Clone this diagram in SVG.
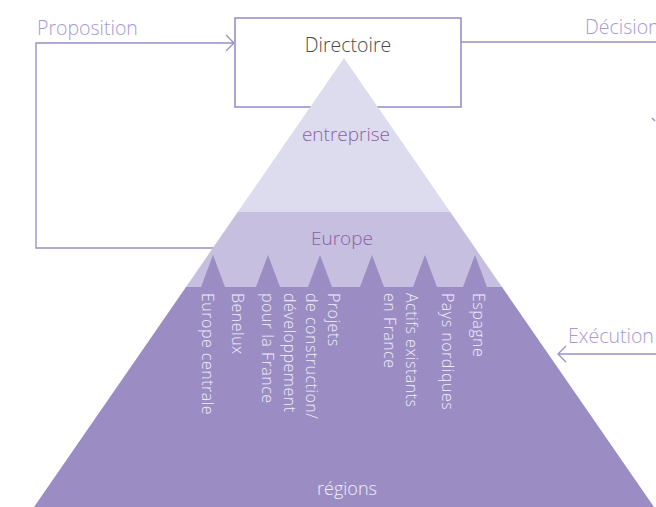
<svg xmlns="http://www.w3.org/2000/svg" width="656" height="507" viewBox="0 0 656 507">
<style>
text{font-family:"Open Sans","Liberation Sans",sans-serif;font-weight:300}
.flow{fill:none;stroke:#9c8fcc;stroke-width:1.4}
.flowlbl{fill:#a59ad4;font-size:19.5px}
.lvl{fill:#8b5fa8;font-size:19px;text-anchor:middle}
.reg{fill:#f1eef9;font-size:16px;letter-spacing:0.5px}
</style>
<defs>
<marker id="chev" viewBox="0 0 10 18" refX="9" refY="9" markerWidth="10" markerHeight="18" markerUnits="userSpaceOnUse" orient="auto">
<path d="M1,1 L9,9 L1,17" fill="none" stroke="#9c8fcc" stroke-width="1.3"/>
</marker>
</defs>
<g id="connectors">
<path class="flow" d="M240,248 H36 V43 H234" marker-end="url(#chev)"/>
<path class="flow" d="M461,42 H656"/>
<path class="flow" d="M656,354 H558" marker-end="url(#chev)"/>
<path class="flow" d="M652,118 L655,121"/>
<text class="flowlbl" x="37" y="35">Proposition</text>
<text class="flowlbl" x="585" y="34">Décision</text>
<text class="flowlbl" x="568" y="343">Exécution</text>
</g>
<g id="directoire">
<rect x="235" y="18" width="226" height="89" fill="#ffffff" stroke="#9c8fcc" stroke-width="1.6"/>
<text x="348" y="52" font-size="19.5" fill="#4a4a4a" text-anchor="middle">Directoire</text>
</g>
<g id="entreprise">
<polygon points="344,58 450.3,212 237.7,212" fill="#dddcef"/>
<text class="lvl" x="346" y="141">entreprise</text>
</g>
<g id="europe">
<polygon points="237.7,212 450.3,212 502,287 186,287" fill="#c6bfdf"/>
<text class="lvl" x="342" y="245">Europe</text>
</g>
<g id="regions">
<polygon points="186,287 201,287 213,255 225,287 256,287 268,255 280,287 308,287 320,255 332,287 360,287 372,255 384,287 413,287 425,255 437,287 463,287 475,255 487,287 502,287 654,507 34,507" fill="#9b8dc4"/>
<text x="347" y="495" font-size="18" fill="#f1eef9" text-anchor="middle">régions</text>
<text class="reg" transform="translate(202,293) rotate(90)">Europe centrale</text>
<text class="reg" transform="translate(232,293) rotate(90)">Benelux</text>
<text class="reg" transform="translate(328,293) rotate(90)"><tspan x="0" y="0">Projets</tspan><tspan x="0" dy="22">de construction/</tspan><tspan x="0" dy="22">développement</tspan><tspan x="0" dy="22">pour la France</tspan></text>
<text class="reg" transform="translate(406,293) rotate(90)"><tspan x="0" y="0">Actifs existants</tspan><tspan x="0" dy="22">en France</tspan></text>
<text class="reg" transform="translate(442,293) rotate(90)">Pays nordiques</text>
<text class="reg" transform="translate(473,293) rotate(90)">Espagne</text>
</g>
</svg>
